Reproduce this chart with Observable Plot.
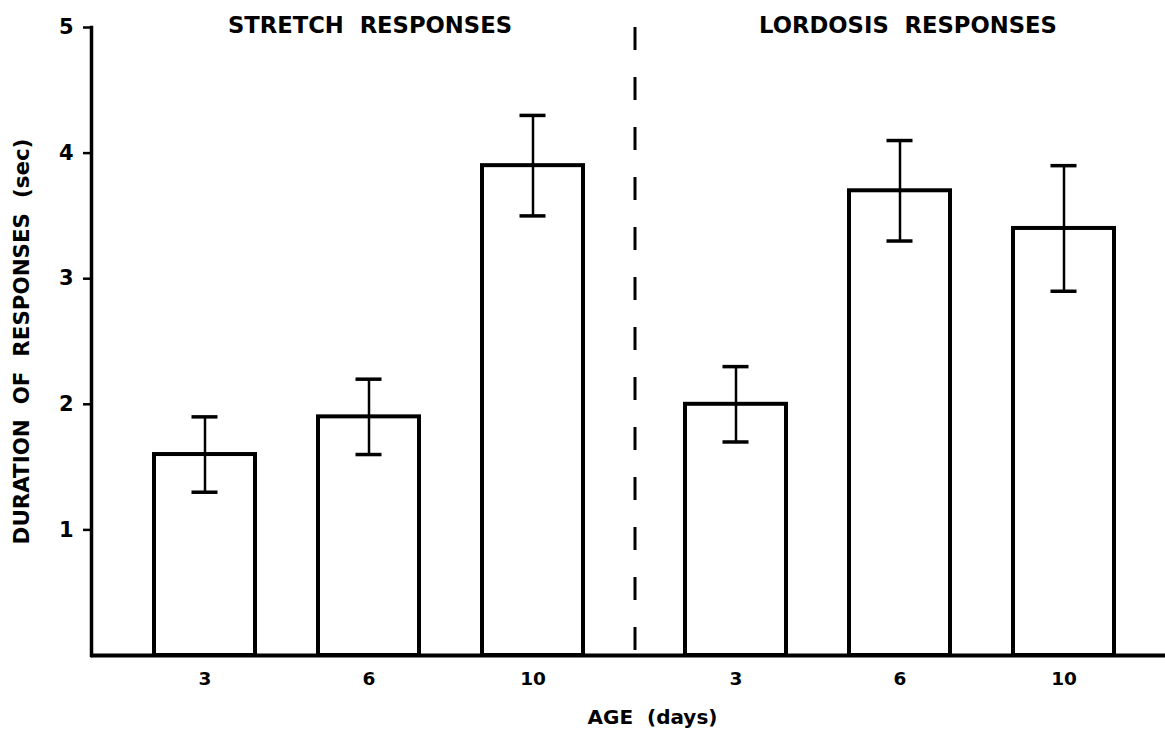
<!DOCTYPE html>
<html>
<head>
<meta charset="utf-8">
<script src="https://cdn.jsdelivr.net/npm/d3@7"></script>
<script src="https://cdn.jsdelivr.net/npm/@observablehq/plot@0.6"></script>
<style>
  html, body { margin: 0; padding: 0; background: #fff; }
  #chart svg { display: block; }
  #chart svg text { white-space: pre; }
</style>
</head>
<body>
<div id="chart"></div>
<script>
// ---- data ----
const groups = ["STRETCH  RESPONSES", "LORDOSIS  RESPONSES"];
const ages = [3, 6, 10];
const stretchMeans = [1.6, 1.9, 3.9];
const stretchErrors = [0.3, 0.3, 0.4];
const lordosisMeans = [2.0, 3.7, 3.4];
const lordosisErrors = [0.3, 0.4, 0.5];
const yTicks = [1, 2, 3, 4, 5];
const yLabel = "DURATION  OF  RESPONSES  (sec)";
const xLabel = "AGE  (days)";

// ---- build table ----
const seriesMeans = [stretchMeans, lordosisMeans];
const seriesErrors = [stretchErrors, lordosisErrors];
const rows = [];
groups.forEach((g, gi) => ages.forEach((a, ai) => {
  const m = seriesMeans[gi][ai], e = seriesErrors[gi][ai];
  rows.push({group: g, age: a, key: g + "|" + a, mean: m, lo: m - e, hi: m + e});
}));
const keys = rows.map(d => d.key);

const FONT = "DejaVu Sans, sans-serif";
const groupShift = [0, 39]; // visual gap between the two response panels

function groupMarks(gi) {
  const data = rows.filter(d => d.group === groups[gi]);
  const dx = groupShift[gi];
  return [
    Plot.barY(data, {x: "key", y: "mean", fill: "white", stroke: "black", strokeWidth: 4, dx}),
    Plot.ruleX(data, {x: "key", y1: "lo", y2: "hi", stroke: "black", strokeWidth: 2.5, dx}),
    Plot.tickY(data, {x: "key", y: "lo", stroke: "black", strokeWidth: 3.5, insetLeft: 37.5, insetRight: 37.5, dx}),
    Plot.tickY(data, {x: "key", y: "hi", stroke: "black", strokeWidth: 3.5, insetLeft: 37.5, insetRight: 37.5, dx}),
    Plot.text(data, {x: "key", y: 0, text: d => String(d.age), dy: 24, dx, fontSize: 18.5, fontWeight: "bold", fill: "black"}),
    Plot.text([{label: groups[gi], key: data[1].key}], {x: "key", y: 5, text: "label", dy: -2, dx: dx + (gi === 1 ? 8 : 1), fontSize: 22.7, fontWeight: "bold", fill: "black"})
  ];
}

const chart = Plot.plot({
  width: 1165,
  height: 730,
  marginLeft: 91,
  marginRight: 0,
  marginTop: 27,
  marginBottom: 75,
  style: {fontFamily: FONT, background: "white", color: "black"},
  x: {type: "band", domain: keys, range: [91.5, 1138.5], paddingInner: 0.384, paddingOuter: 0.384, axis: null},
  y: {domain: [0, 5], axis: null},
  marks: [
    Plot.axisY({ticks: yTicks, tickSize: 8, strokeWidth: 2.5, label: null, tickFormat: () => ""}),
    Plot.text(yTicks, {frameAnchor: "left", y: d => d, text: d => String(d), textAnchor: "end", dx: -18, fontSize: 21, fontWeight: "bold", fill: "black"}),
    Plot.frame({anchor: "left", strokeWidth: 3.5}),
    Plot.ruleY([0], {strokeWidth: 4}),
    Plot.ruleX([keys[2]], {y1: 5, y2: 0, dx: 102, stroke: "black", strokeWidth: 3, strokeDasharray: "23,27"}),
    ...groupMarks(0),
    ...groupMarks(1),
    Plot.text([yLabel], {frameAnchor: "left", text: d => d, textAnchor: "middle", rotate: -90, dx: -69, fontSize: 21.4, fontWeight: "bold", fill: "black"}),
    Plot.text([xLabel], {frameAnchor: "bottom", text: d => d, textAnchor: "middle", dx: 24, dy: 68, fontSize: 20, fontWeight: "bold", fill: "black"})
  ]
});
document.getElementById("chart").appendChild(chart);
</script>
</body>
</html>
